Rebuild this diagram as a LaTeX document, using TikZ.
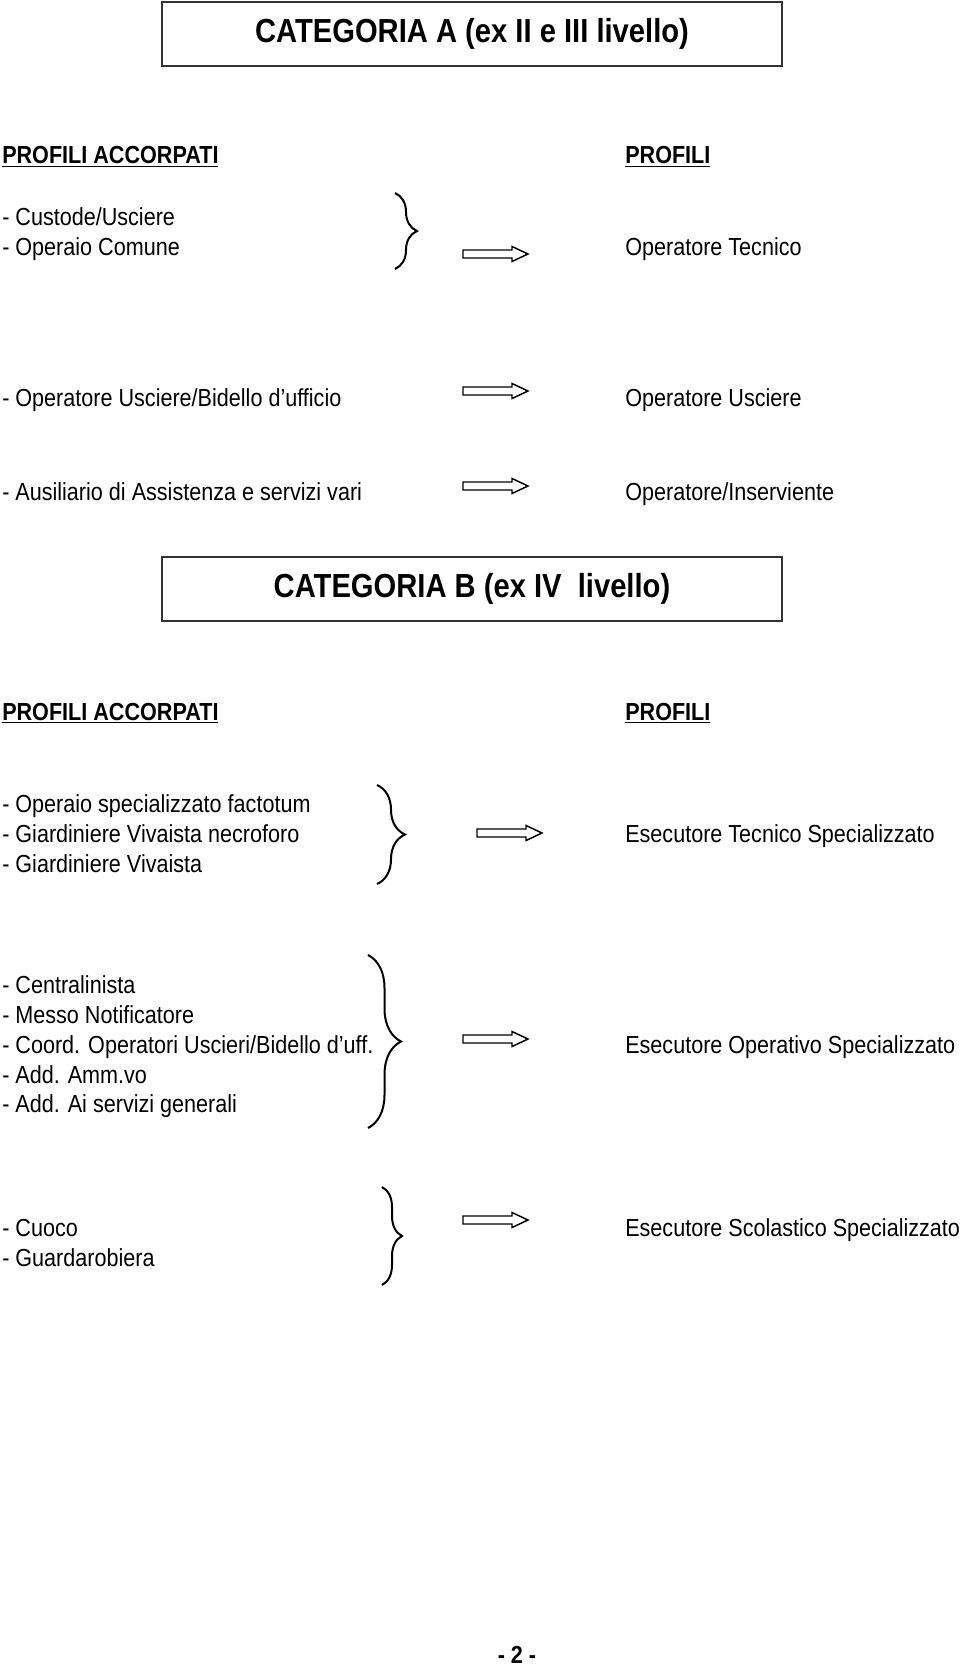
\documentclass[tikz,border=0pt]{standalone}
\usepackage{fontspec}
\setmainfont[FakeStretch=0.875]{Liberation Sans}
\usetikzlibrary{decorations.pathreplacing}

\tikzset{
  catbox/.style={draw=black!80, line width=1.5pt, minimum width=465pt, minimum height=48pt, inner sep=0pt, font=\fontsize{25}{30}\selectfont\bfseries},
  item/.style={anchor=base west, inner sep=0pt},
  head/.style={item, font=\fontsize{18.5}{22.5}\selectfont\bfseries},
  grp/.style={decorate, decoration={brace, amplitude=#1}, line width=1.5pt},
  fatarrow/.pic={\draw[line width=1.1pt, fill=white, line join=miter] (0,-4) -- (49,-4) -- (49,-7.5) -- (65,0) -- (49,7.5) -- (49,4) -- (0,4) -- cycle;}
}

\begin{document}
\begin{tikzpicture}[x=0.75pt, y=-0.75pt, font=\fontsize{18.5}{22.5}\selectfont]
  \useasboundingbox (0,0) rectangle (960,1666);

  % categoria A
  \node[catbox] (catA) at (472,34) {CATEGORIA A (ex II e III livello)};
  \node[head] (accA) at (2,164) {\underline{PROFILI ACCORPATI}};
  \node[head] (profA) at (625,164) {\underline{PROFILI}};

  \node[item] (a1) at (2,225) {- Custode/Usciere};
  \node[item] (a2) at (2,255) {- Operaio Comune};
  \draw[grp=16.5pt] (395,193) -- (395,269);
  \pic at (463,254) {fatarrow};
  \node[item] (ra1) at (625,255) {Operatore Tecnico};

  \node[item] (a3) at (2,406) {- Operatore Usciere/Bidello d’ufficio};
  \pic at (463,391) {fatarrow};
  \node[item] (ra2) at (625,406) {Operatore Usciere};

  \node[item] (a4) at (2,500) {- Ausiliario di Assistenza e servizi vari};
  \pic at (463,486) {fatarrow};
  \node[item] (ra3) at (625,500) {Operatore/Inserviente};

  % categoria B
  \node[catbox] (catB) at (472,588.5) {CATEGORIA B (ex IV\ \ livello)};
  \node[head] (accB) at (2,720) {\underline{PROFILI ACCORPATI}};
  \node[head] (profB) at (625,720) {\underline{PROFILI}};

  \node[item] (b1) at (2,812) {- Operaio specializzato factotum};
  \node[item] (b2) at (2,842) {- Giardiniere Vivaista necroforo};
  \node[item] (b3) at (2,872) {- Giardiniere Vivaista};
  \draw[grp=21pt] (377,785) -- (377,884);
  \pic at (477,833) {fatarrow};
  \node[item] (rb1) at (625,842) {Esecutore Tecnico Specializzato};

  \node[item] (c1) at (2,993) {- Centralinista};
  \node[item] (c2) at (2,1023) {- Messo Notificatore};
  \node[item] (c3) at (2,1053) {- Coord. Operatori Uscieri/Bidello d’uff.};
  \node[item] (c4) at (2,1083) {- Add. Amm.vo};
  \node[item] (c5) at (2,1112) {- Add. Ai servizi generali};
  \draw[grp=24.75pt] (368,955) -- (368,1128);
  \pic at (463,1039) {fatarrow};
  \node[item] (rc1) at (625,1053) {Esecutore Operativo Specializzato};

  \node[item] (d1) at (2,1236) {- Cuoco};
  \node[item] (d2) at (2,1266) {- Guardarobiera};
  \draw[grp=15pt] (382,1187) -- (382,1285);
  \pic at (463,1220) {fatarrow};
  \node[item] (rd1) at (625,1236) {Esecutore Scolastico Specializzato};

  \node[anchor=base, inner sep=0pt, font=\fontsize{18.5}{22.5}\selectfont\bfseries] (page) at (517,1663) {- 2 -};
\end{tikzpicture}
\end{document}
